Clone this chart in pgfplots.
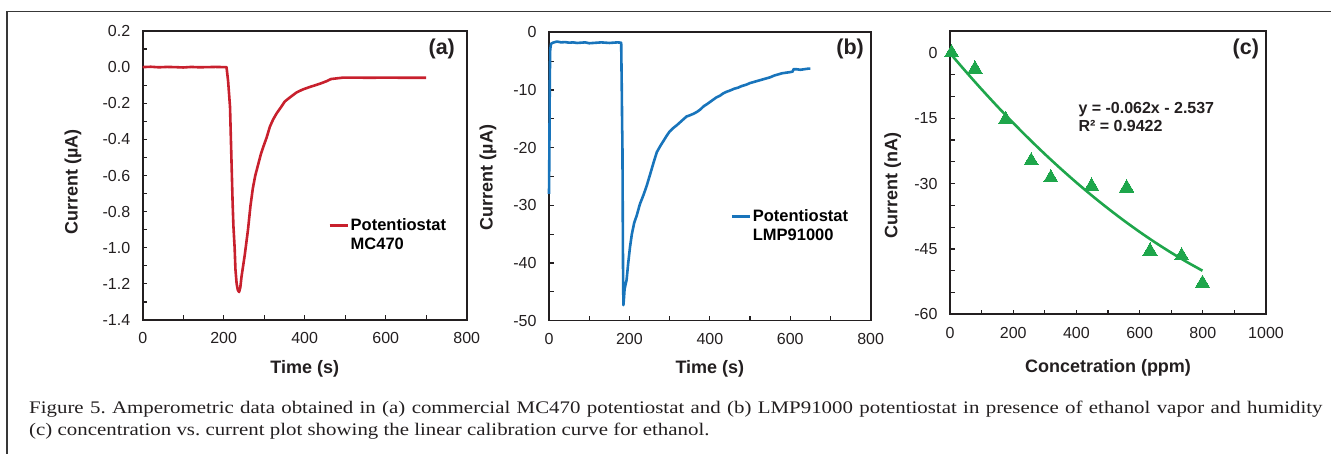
\documentclass[border=0pt]{standalone}
\usepackage{fontspec}
\setmainfont{Liberation Sans}
\newfontfamily\capfont{Liberation Serif}
\usepackage{pgfplots}
\pgfplotsset{compat=1.18}
\definecolor{axcol}{HTML}{231F20}
\definecolor{redCol}{HTML}{C8202D}
\definecolor{blueCol}{HTML}{1874BB}
\definecolor{greenCol}{HTML}{1EA64B}

\pgfplotsset{
  panel/.style={
    scale only axis, anchor=south west, clip=false,
    axis line style={line width=1.6pt, color=axcol},
    tick style={line width=1.2pt, color=axcol},
    major tick length=4.5pt, minor tick length=4.5pt,
    tick align=inside, tick pos=left,
    tick label style={font=\fontsize{16}{16}\selectfont, color=axcol},
    /pgf/number format/assume math mode=true,
    /pgf/number format/1000 sep={},
    yticklabel style={xshift=-9pt},
    xticklabel style={yshift=-9pt},
    label style={font=\bfseries\fontsize{18}{18}\selectfont, color=axcol},
    legend style={draw=none, fill=none, anchor=north west,
      font=\bfseries\fontsize{16.5}{16.5}\selectfont,
      inner sep=0pt, row sep=3pt, nodes={inner sep=1.5pt}},
    legend cell align=left,
    legend image code/.code={\draw[##1, line width=3pt] (0pt,0pt) -- (18pt,0pt);},
  },
}
\tikzset{tag/.style={font=\bfseries\fontsize{21.5}{21.5}\selectfont, color=axcol}}

\begin{document}
\frenchspacing
\begin{tikzpicture}[x=1pt, y=1pt]
\path[use as bounding box] (0,0) rectangle (1331,454);
\draw[line width=1.7pt, color=black!78] (7.3,0) -- (7.3,442.5) -- (1331,442.5);

% (a) MC470
\begin{axis}[panel,
  at={(142.7pt,134pt)}, width=324pt, height=289pt,
  xmin=0, xmax=800, ymin=-1.4, ymax=0.2,
  xtick={0,200,400,600,800}, minor x tick num=1,
  ytick={-1.4,-1.2,-1,-0.8,-0.6,-0.4,-0.2,0,0.2}, minor y tick num=1,
  yticklabel style={/pgf/number format/.cd, fixed, fixed zerofill, precision=1},
  xlabel={Time (s)}, ylabel={Current (µA)},
  xlabel style={at={(axis description cs:0.5,-0.17)}, anchor=center},
  ylabel style={at={(axis description cs:-0.215,0.477)}, anchor=center},
  legend style={at={(axis description cs:0.572,0.356)}},
]
\addplot[redCol, line width=2.6pt, line join=round] table {
0 0.000
20 0.002
40 -0.001
60 0.001
80 0.000
100 -0.002
120 0.001
140 -0.001
160 0.000
180 0.001
200 0.000
207 0.000
211 -0.08
215.6 -0.22
219 -0.50
222 -0.75
224 -0.88
227 -1.00
229 -1.12
232 -1.20
235 -1.235
238 -1.245
241 -1.22
244 -1.16
248 -1.10
252 -1.04
256 -0.97
260 -0.90
266 -0.77
272 -0.67
278 -0.60
285 -0.54
292 -0.48
298 -0.44
306 -0.39
314 -0.33
322 -0.29
331 -0.255
342 -0.22
351 -0.19
365 -0.165
380 -0.14
395 -0.124
410 -0.112
425 -0.101
440 -0.090
455 -0.077
465 -0.066
480 -0.062
495 -0.058
520 -0.058
560 -0.059
600 -0.058
650 -0.059
700 -0.059
};
\addlegendentry{Potentiostat}
\addlegendimage{empty legend}
\addlegendentry{MC470}
\node[tag] at (rel axis cs:0.923,0.937) {(a)};
\end{axis}

% (b) LMP91000
\begin{axis}[panel,
  at={(549pt,133.3pt)}, width=321.7pt, height=288.4pt,
  xmin=0, xmax=800, ymin=-50, ymax=0,
  xtick={0,200,400,600,800}, minor x tick num=1,
  ytick={-50,-40,-30,-20,-10,0}, minor y tick num=1,
  xlabel={Time (s)}, ylabel={Current (µA)},
  xlabel style={at={(axis description cs:0.5,-0.168)}, anchor=center},
  ylabel style={at={(axis description cs:-0.19,0.497)}, anchor=center},
  legend style={at={(axis description cs:0.563,0.392)}},
]
\addplot[blueCol, line width=2.6pt, line join=round] table {
0 -28
1 -20
2 -8
3 -3
5 -2.0
10 -1.8
20 -1.6
30 -1.75
40 -1.7
50 -1.8
60 -1.75
70 -1.85
80 -1.8
90 -1.75
100 -1.9
110 -1.85
120 -1.8
130 -1.75
140 -1.8
150 -1.85
160 -1.8
170 -1.75
179.5 -1.8
181 -10
182 -17
182.5 -18
184 -40
185 -47.3
186 -46.5
188 -44.5
193 -42.9
197 -40
201.5 -37.2
206 -35
212 -33
218 -31.8
226 -29.8
235 -28.2
243 -26.6
252 -24.5
260 -22.6
268 -20.8
276 -19.8
285 -18.8
293 -17.9
300 -17.2
309 -16.6
318 -16.1
326 -15.6
334 -15.1
342 -14.6
350 -14.4
360 -14.1
368 -13.8
376 -13.4
385 -12.8
392 -12.5
400 -12.1
408 -11.7
416 -11.3
425 -11.0
433 -10.6
442 -10.3
450 -10.1
460 -9.8
470 -9.6
480 -9.3
490 -9.1
500 -8.8
510 -8.6
520 -8.4
530 -8.2
540 -8.0
550 -7.8
560 -7.5
570 -7.3
580 -7.1
590 -7.0
600 -6.9
606 -6.8
608 -6.4
615 -6.4
625 -6.5
635 -6.4
645 -6.3
650 -6.3
};
\addlegendentry{Potentiostat}
\addlegendimage{empty legend}
\addlegendentry{LMP91000}
\node[tag] at (rel axis cs:0.936,0.942) {(b)};
\end{axis}

% (c) calibration
\begin{axis}[panel,
  at={(950pt,139.7pt)}, width=316pt, height=283.3pt,
  xmin=0, xmax=1000, ymin=-60, ymax=5,
  xtick={0,200,400,600,800,1000}, minor x tick num=1,
  ytick={-60,-45,-30,-15,0}, minor y tick num=2,
  xlabel={Concetration (ppm)}, ylabel={Current (nA)},
  xlabel style={at={(axis description cs:0.5,-0.19)}, anchor=center},
  ylabel style={at={(axis description cs:-0.181,0.453)}, anchor=center},
]
\addplot[only marks, mark=triangle*, mark size=8.2pt,
  mark options={fill=greenCol, draw=greenCol, line width=0pt}] table {
5 0
79 -3.7
176 -15.3
257 -24.8
319 -28.7
448 -30.6
559 -31.0
633 -45.5
733 -46.6
799 -52.9
};
\addplot[greenCol, line width=2.6pt, smooth] table {
5 -0.5
50 -4.30
100 -8.38
150 -12.31
200 -16.10
250 -19.74
300 -23.23
350 -26.57
400 -29.77
450 -32.82
500 -35.72
550 -38.48
600 -41.09
650 -43.55
700 -45.86
750 -48.02
799 -50.0
};
\node[anchor=north west, align=left, inner sep=0pt, color=axcol,
  font=\bfseries\fontsize{16}{17.5}\selectfont]
  at (rel axis cs:0.406,0.748) {y = -0.062x - 2.537\\R² = 0.9422};
\node[tag] at (rel axis cs:0.936,0.936) {(c)};
\end{axis}

% caption
\node[anchor=base west, inner sep=0pt, color=axcol,
  font=\capfont\fontsize{17.7}{20}\selectfont] at (29,40)
  {\scalebox{1.18}[1]{\makebox[1096pt][s]{Figure 5. Amperometric data obtained in (a) commercial MC470 potentiostat and (b) LMP91000 potentiostat in presence of ethanol vapor and humidity}}};
\node[anchor=base west, inner sep=0pt, color=axcol,
  font=\capfont\fontsize{17.7}{20}\selectfont] at (29,18.5)
  {\scalebox{1.18}[1]{(c) concentration vs. current plot showing the linear calibration curve for ethanol.}};
\end{tikzpicture}
\end{document}
